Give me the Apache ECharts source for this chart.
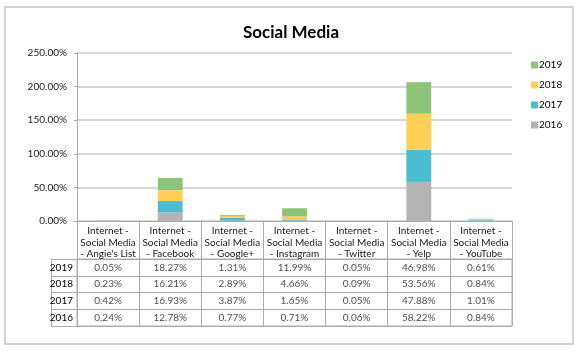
<!DOCTYPE html>
<html>
<head>
<meta charset="utf-8">
<script src="https://cdn.jsdelivr.net/npm/echarts@6/dist/echarts.min.js"></script>
<style>
    html, body { margin: 0; padding: 0; background: #fff; }
    #chart { width: 582px; height: 353px; }
</style>
</head>
<body>
<div id="chart"></div>
<script>
// data
var categories = [
    "Internet - Social Media - Angie's List",
    'Internet - Social Media - Facebook',
    'Internet - Social Media - Google+',
    'Internet - Social Media - Instagram',
    'Internet - Social Media - Twitter',
    'Internet - Social Media - Yelp',
    'Internet - Social Media - YouTube'
];
var years = ['2019', '2018', '2017', '2016'];
var values2019 = [0.05, 18.27, 1.31, 11.99, 0.05, 46.98, 0.61];
var values2018 = [0.23, 16.21, 2.89, 4.66, 0.09, 53.56, 0.84];
var values2017 = [0.42, 16.93, 3.87, 1.65, 0.05, 47.88, 1.01];
var values2016 = [0.24, 12.78, 0.77, 0.71, 0.06, 58.22, 0.84];

var colors = {
    '2016': '#b4b4b4',
    '2017': '#4bbcd1',
    '2018': '#fdcf56',
    '2019': '#8dc47a'
};
var font = 'Lato, "Open Sans", sans-serif';
var lineCol = '#ababab';

var seriesValues = {
    '2019': values2019,
    '2018': values2018,
    '2017': values2017,
    '2016': values2016
};

// table cells: [column, year, value]
var tableCells = [];
years.forEach(function (y) {
    seriesValues[y].forEach(function (v, i) {
        tableCells.push([i, y, v]);
    });
});

var barSeries = ['2016', '2017', '2018', '2019'].map(function (y) {
    return {
        name: y,
        type: 'bar',
        stack: 'total',
        barWidth: '40%',
        xAxisIndex: 0,
        yAxisIndex: 0,
        itemStyle: { color: colors[y] },
        data: seriesValues[y]
    };
});

var option = {
    animation: false,
    textStyle: { fontFamily: font },
    graphic: [{
        type: 'rect',
        shape: { x: 5, y: 7, width: 568, height: 337 },
        style: { fill: 'none', stroke: '#d2d2d2', lineWidth: 2 },
        silent: true
    }],
    title: {
        text: 'Social Media',
        left: 'center',
        top: 19,
        textStyle: { fontSize: 17, fontWeight: 'bold', color: '#000', fontFamily: font }
    },
    legend: {
        data: years,
        orient: 'vertical',
        left: 526,
        top: 55,
        itemWidth: 7,
        itemHeight: 7,
        itemGap: 10,
        icon: 'rect',
        textStyle: { fontSize: 10, color: '#000', fontFamily: font, padding: [0, 0, 0, -4] }
    },
    grid: [
        { left: 77, right: 70, top: 53, height: 168 },
        { left: 77, right: 70, top: 259, height: 67, show: true, borderColor: lineCol, borderWidth: 1 }
    ],
    xAxis: [{
        type: 'category',
        gridIndex: 0,
        data: categories,
        axisLine: { lineStyle: { color: lineCol } },
        axisTick: { show: true, length: 38, interval: 0, lineStyle: { color: lineCol } },
        axisLabel: {
            interval: 0,
            margin: 4,
            fontSize: 10,
            lineHeight: 11.7,
            color: '#1a1a1a',
            formatter: function (v) {
                return v.replace(' - Social Media - ', ' -\nSocial Media\n- ');
            }
        }
    }, {
        type: 'category',
        gridIndex: 1,
        data: categories,
        axisLine: { show: false },
        axisTick: { show: false },
        axisLabel: { show: false },
        splitLine: { show: true, interval: 0, lineStyle: { color: lineCol } }
    }],
    yAxis: [{
        type: 'value',
        gridIndex: 0,
        min: 0,
        max: 250,
        interval: 50,
        axisLine: { show: true, lineStyle: { color: lineCol } },
        axisTick: { show: true, length: 3, lineStyle: { color: lineCol } },
        axisLabel: {
            fontSize: 10,
            color: '#1a1a1a',
            margin: 10,
            formatter: function (v) { return v.toFixed(2) + '%'; }
        },
        splitLine: { lineStyle: { color: '#cacaca', width: 1.5 } }
    }, {
        type: 'category',
        gridIndex: 1,
        data: years,
        inverse: true,
        axisLine: { show: false },
        axisTick: { show: true, length: 26, interval: 0, lineStyle: { color: lineCol } },
        axisLabel: { fontSize: 10, color: '#000', margin: 4 },
        splitLine: { show: true, interval: 0, lineStyle: { color: lineCol } }
    }, {
        type: 'category',
        gridIndex: 1,
        data: years,
        inverse: true,
        position: 'left',
        offset: 26,
        axisLine: { show: true, lineStyle: { color: lineCol } },
        axisTick: { show: false },
        axisLabel: { show: false }
    }],
    series: barSeries.concat([{
        type: 'scatter',
        xAxisIndex: 1,
        yAxisIndex: 1,
        symbolSize: 1,
        itemStyle: { color: 'transparent' },
        silent: true,
        label: {
            show: true,
            position: 'inside',
            fontSize: 10,
            color: '#1a1a1a',
            formatter: function (p) { return p.value[2].toFixed(2) + '%'; }
        },
        data: tableCells
    }])
};

var chart = echarts.init(document.getElementById('chart'));
chart.setOption(option);
</script>
</body>
</html>
